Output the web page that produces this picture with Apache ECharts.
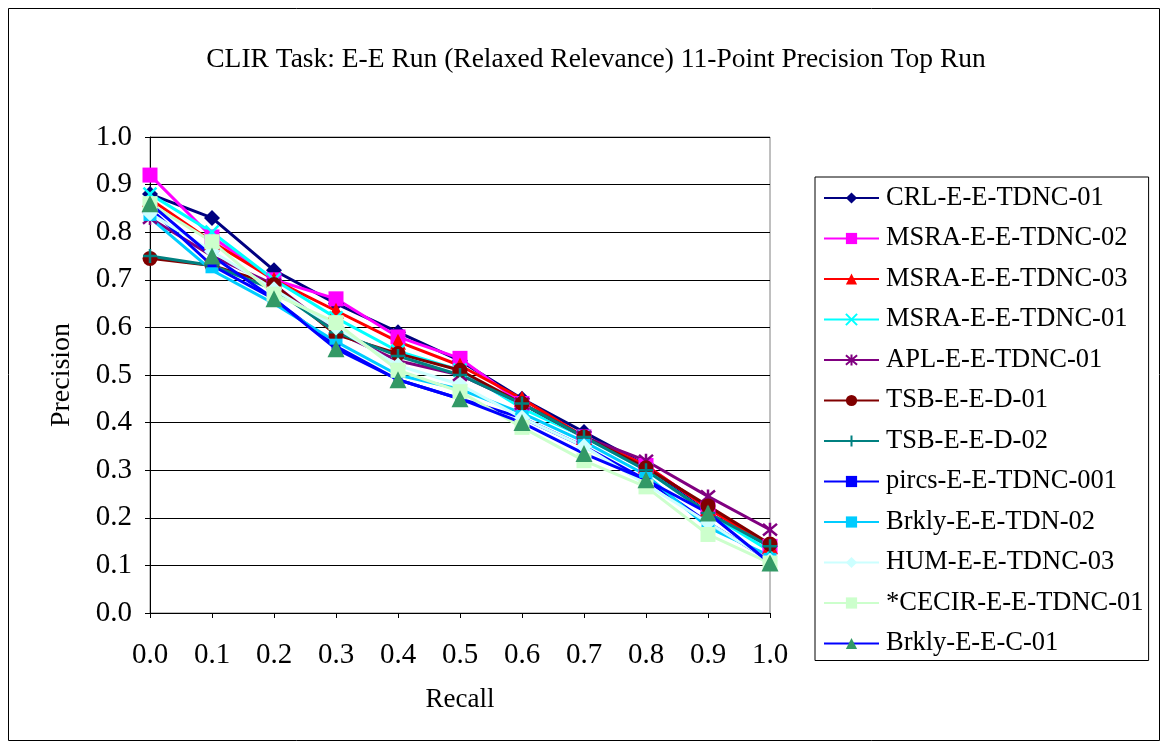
<!DOCTYPE html>
<html>
<head>
<meta charset="utf-8">
<script src="https://cdn.jsdelivr.net/npm/echarts@6/dist/echarts.min.js"></script>
<style>
  html, body { margin: 0; padding: 0; background: #ffffff; }
  #chart { width: 1168px; height: 749px; }
</style>
</head>
<body>
<div id="chart"></div>
<script>
// Recall levels of the 11-point interpolated precision curve
const recallLevels = [0.0, 0.1, 0.2, 0.3, 0.4, 0.5, 0.6, 0.7, 0.8, 0.9, 1.0];

// Run names (legend order)
const runNames = [
  'CRL-E-E-TDNC-01', 'MSRA-E-E-TDNC-02', 'MSRA-E-E-TDNC-03', 'MSRA-E-E-TDNC-01',
  'APL-E-E-TDNC-01', 'TSB-E-E-D-01', 'TSB-E-E-D-02', 'pircs-E-E-TDNC-001',
  'Brkly-E-E-TDN-02', 'HUM-E-E-TDNC-03', '*CECIR-E-E-TDNC-01', 'Brkly-E-E-C-01'
];

// Precision at each recall level, one array per run
const crlTdnc01   = [0.88, 0.83, 0.72, 0.65, 0.59, 0.53, 0.45, 0.38, 0.31, 0.21, 0.14];
const msraTdnc02  = [0.92, 0.79, 0.70, 0.66, 0.58, 0.535, 0.44, 0.37, 0.31, 0.22, 0.14];
const msraTdnc03  = [0.87, 0.78, 0.70, 0.635, 0.57, 0.52, 0.45, 0.37, 0.31, 0.22, 0.14];
const msraTdnc01  = [0.88, 0.80, 0.70, 0.62, 0.55, 0.51, 0.43, 0.37, 0.30, 0.21, 0.13];
const aplTdnc01   = [0.83, 0.75, 0.69, 0.59, 0.53, 0.50, 0.44, 0.37, 0.32, 0.245, 0.175];
const tsbD01      = [0.745, 0.73, 0.69, 0.585, 0.545, 0.51, 0.44, 0.37, 0.305, 0.225, 0.145];
const tsbD02      = [0.75, 0.73, 0.68, 0.59, 0.54, 0.50, 0.44, 0.37, 0.30, 0.21, 0.14];
const pircsTdnc001= [0.85, 0.73, 0.66, 0.56, 0.49, 0.45, 0.41, 0.35, 0.28, 0.19, 0.11];
const brklyTdn02  = [0.83, 0.72, 0.65, 0.57, 0.50, 0.47, 0.42, 0.36, 0.29, 0.18, 0.12];
const humTdnc03   = [0.84, 0.76, 0.68, 0.60, 0.52, 0.48, 0.41, 0.35, 0.27, 0.19, 0.11];
const cecirTdnc01 = [0.86, 0.78, 0.67, 0.61, 0.51, 0.465, 0.39, 0.32, 0.265, 0.165, 0.105];
const brklyC01    = [0.86, 0.75, 0.66, 0.555, 0.49, 0.45, 0.40, 0.335, 0.28, 0.21, 0.105];

// Axis tick labels
const precisionTicks = ['0.0','0.1','0.2','0.3','0.4','0.5','0.6','0.7','0.8','0.9','1.0'];
const recallTicks    = ['0.0','0.1','0.2','0.3','0.4','0.5','0.6','0.7','0.8','0.9','1.0'];

const runValues = [crlTdnc01, msraTdnc02, msraTdnc03, msraTdnc01, aplTdnc01, tsbD01,
                   tsbD02, pircsTdnc001, brklyTdn02, humTdnc03, cecirTdnc01, brklyC01];

// Stroke-only marker shapes
const xMark = 'path://M0,0L10,10M10,0L0,10';
const starMark = 'path://M0,0L10,10M10,0L0,10M5,-1L5,11';
const plusMark = 'path://M5,0L5,10M0,5L10,5';

const styles = [
  { line: '#000080', fill: '#000080', symbol: 'diamond', size: 16 },
  { line: '#FF00FF', fill: '#FF00FF', symbol: 'rect', size: 15 },
  { line: '#FF0000', fill: '#FF0000', symbol: 'triangle', size: 16 },
  { line: '#00FFFF', fill: '#00FFFF', symbol: xMark, size: 13, stroke: true },
  { line: '#800080', fill: '#800080', symbol: starMark, size: 14, stroke: true },
  { line: '#800000', fill: '#800000', symbol: 'circle', size: 15 },
  { line: '#008080', fill: '#008080', symbol: plusMark, size: 14, stroke: true },
  { line: '#0000FF', fill: '#0000FF', symbol: 'rect', size: [9, 5] },
  { line: '#00CCFF', fill: '#00CCFF', symbol: 'rect', size: [13, 6] },
  { line: '#CCFFFF', fill: '#CCFFFF', symbol: 'diamond', size: 16 },
  { line: '#CCFFCC', fill: '#CCFFCC', symbol: 'rect', size: 15 },
  { line: '#0000FF', fill: '#339966', symbol: 'triangle', size: 17 }
];

const serif = '"Liberation Serif", "Times New Roman", serif';

const series = runNames.map((name, i) => {
  const s = styles[i];
  return {
    name: name,
    type: 'line',
    data: recallLevels.map((r, j) => [r, runValues[i][j]]),
    symbol: s.symbol,
    symbolSize: s.size,
    showAllSymbol: true,
    lineStyle: { color: s.line, width: 3 },
    itemStyle: s.stroke
      ? { color: s.fill, borderColor: s.fill, borderWidth: 2.5 }
      : { color: s.fill, borderWidth: 0 },
    emphasis: { disabled: true },
    animation: false
  };
});

const chart = echarts.init(document.getElementById('chart'), null, { renderer: 'canvas' });
chart.setOption({
  backgroundColor: '#ffffff',
  animation: false,
  title: {
    text: 'CLIR Task: E-E Run (Relaxed Relevance) 11-Point Precision Top Run',
    left: 591,
    top: 41,
    textAlign: 'center',
    textStyle: { fontFamily: serif, fontSize: 27.5, fontWeight: 'normal', color: '#000' }
  },
  grid: {
    left: 150, top: 137, width: 620, height: 476,
    show: true, borderColor: '#808080', borderWidth: 1, backgroundColor: 'transparent'
  },
  xAxis: {
    type: 'value', min: 0, max: 1, interval: 0.1,
    name: 'Recall', nameLocation: 'middle', nameGap: 73,
    nameTextStyle: { fontFamily: serif, fontSize: 27, color: '#000' },
    axisLine: { lineStyle: { color: '#000', width: 1 } },
    axisTick: { show: true, length: 5, inside: false, lineStyle: { color: '#000' } },
    axisLabel: {
      fontFamily: serif, fontSize: 29, color: '#000', margin: 28,
      formatter: v => recallTicks[Math.round(v * 10)]
    },
    splitLine: { show: false }
  },
  yAxis: {
    type: 'value', min: 0, max: 1, interval: 0.1,
    name: 'Precision', nameLocation: 'middle', nameGap: 74, nameRotate: 90,
    nameTextStyle: { fontFamily: serif, fontSize: 28, color: '#000' },
    axisLine: { show: true, lineStyle: { color: '#000', width: 1 } },
    axisTick: { show: true, length: 5, inside: false, lineStyle: { color: '#000' } },
    axisLabel: {
      fontFamily: serif, fontSize: 29, color: '#000', margin: 18,
      formatter: v => precisionTicks[Math.round(v * 10)]
    },
    splitLine: { show: true, lineStyle: { color: '#000', width: 1 } }
  },
  legend: {
    orient: 'vertical',
    left: 815, top: 177,
    padding: [7, 5, 3, 8],
    itemWidth: 55, itemHeight: 14, itemGap: 12.5,
    borderColor: '#000', borderWidth: 1,
    textStyle: { fontFamily: serif, fontSize: 26.5, color: '#000', padding: [0, 0, 0, 2], lineHeight: 28 },
    data: runNames,
    selectedMode: false
  },
  graphic: [{
    type: 'rect',
    shape: { x: 8.5, y: 8.5, width: 1151, height: 732 },
    style: { fill: 'none', stroke: '#000', lineWidth: 1 },
    silent: true, z: -10
  }],
  series: series
});
</script>
</body>
</html>
